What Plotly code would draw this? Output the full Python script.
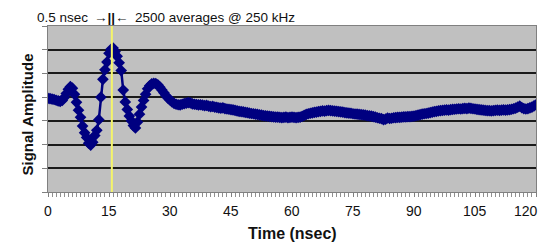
import plotly.graph_objects as go

# Sampling: one point every 0.5 ns from 0 to 120 ns
t_start = 0.0
t_step = 0.5

# Signal amplitude (arbitrary units, gridline spacing = 1)
signal = [
    3.95, 3.94, 3.92, 3.90, 3.87, 3.84, 3.82, 3.86, 3.98, 4.15,
    4.33, 4.44, 4.38, 4.12, 3.78, 3.45, 3.15, 2.78, 2.50, 2.30,
    2.06, 1.98, 2.10, 2.38, 2.60, 3.05, 4.00, 4.75, 5.15, 5.48,
    5.85, 6.02, 6.07, 5.92, 5.72, 5.45, 5.12, 4.30, 3.80, 3.48,
    3.20, 3.00, 2.80, 2.70, 2.95, 3.28, 3.58, 3.86, 4.12, 4.35,
    4.48, 4.56, 4.58, 4.57, 4.52, 4.42, 4.30, 4.18, 4.06, 3.96,
    3.88, 3.80, 3.74, 3.70, 3.68, 3.67, 3.70, 3.73, 3.75, 3.77,
    3.76, 3.72, 3.70, 3.69, 3.67, 3.68, 3.66, 3.64, 3.65, 3.62,
    3.60, 3.61, 3.58, 3.57, 3.55, 3.54, 3.55, 3.52, 3.50, 3.49,
    3.47, 3.46, 3.44, 3.42, 3.40, 3.39, 3.38, 3.36, 3.35, 3.33,
    3.31, 3.30, 3.28, 3.27, 3.25, 3.24, 3.22, 3.21, 3.20, 3.19,
    3.18, 3.17, 3.16, 3.16, 3.15, 3.14, 3.15, 3.16, 3.14, 3.15,
    3.16, 3.15, 3.14, 3.15, 3.16, 3.19, 3.23, 3.27, 3.30, 3.32,
    3.34, 3.36, 3.37, 3.39, 3.40, 3.42, 3.41, 3.43, 3.44, 3.43,
    3.42, 3.41, 3.40, 3.39, 3.38, 3.37, 3.35, 3.34, 3.33, 3.32,
    3.30, 3.29, 3.28, 3.27, 3.26, 3.25, 3.24, 3.22, 3.21, 3.20,
    3.18, 3.16, 3.13, 3.11, 3.09, 3.05, 3.07, 3.12, 3.10, 3.11,
    3.13, 3.14, 3.15, 3.15, 3.16, 3.17, 3.17, 3.18, 3.18, 3.19,
    3.20, 3.22, 3.24, 3.26, 3.28, 3.30, 3.31, 3.33, 3.35, 3.37,
    3.39, 3.40, 3.42, 3.43, 3.44, 3.45, 3.46, 3.45, 3.47, 3.48,
    3.49, 3.50, 3.51, 3.50, 3.52, 3.53, 3.52, 3.54, 3.53, 3.51,
    3.50, 3.48, 3.47, 3.46, 3.45, 3.44, 3.43, 3.43, 3.42, 3.43,
    3.44, 3.45, 3.44, 3.45, 3.46, 3.45, 3.46, 3.47, 3.49, 3.51,
    3.54, 3.58, 3.62, 3.56, 3.52, 3.50, 3.52, 3.55, 3.58, 3.63,
    3.68,
]

x_ticks = [0, 15, 30, 45, 60, 75, 90, 105, 120]
x_tick_labels = ["0", "15", "30", "45", "60", "75", "90", "105", "120"]
y_ticks = [0, 1, 2, 3, 4, 5, 6, 7]

pulse_time = 15.7  # yellow marker line (ns)
header_left = "0.5 nsec"
header_mid = "<b>\u2192||\u2190</b>"
header_right = "2500 averages @ 250 kHz"
x_title = "<b>Time (nsec)</b>"
y_title = "<b>Signal Amplitude</b>"

FONT = "Liberation Sans, Arial, sans-serif"
NAVY = "#000080"
TXT = "#111111"

fig = go.Figure()
fig.add_trace(go.Scatter(
    x0=t_start, dx=t_step, y=signal,
    mode="lines+markers",
    line=dict(color=NAVY, width=2.5),
    marker=dict(symbol="diamond", size=9, color=NAVY),
    showlegend=False,
))

fig.add_vline(x=pulse_time, line=dict(color="#f4f46a", width=2), layer="above")

hdr_font = dict(family=FONT, size=13.5, color=TXT)
fig.add_annotation(text=header_left, xref="x", yref="paper", x=pulse_time,
                   y=1.0, xanchor="right", yanchor="middle", xshift=-22, yshift=9,
                   showarrow=False, font=hdr_font)
fig.add_annotation(text=header_mid, xref="x", yref="paper", x=pulse_time,
                   y=1.0, xanchor="center", yanchor="middle", yshift=9,
                   showarrow=False, font=hdr_font)
fig.add_annotation(text=header_right, xref="x", yref="paper", x=pulse_time,
                   y=1.0, xanchor="left", yanchor="middle", xshift=21, yshift=9,
                   showarrow=False, font=hdr_font)

# Tick labels drawn as annotations at the tick positions; the last one is
# right-aligned so it stays inside the page, as in the reference.
for xv, lbl in zip(x_ticks, x_tick_labels):
    last = xv == x_ticks[-1]
    fig.add_annotation(text=lbl, xref="x", yref="paper", x=xv, y=0,
                       xanchor="right" if last else "center", yanchor="middle",
                       xshift=4 if last else 0, yshift=-19,
                       showarrow=False, font=dict(family=FONT, size=14, color=TXT))

fig.add_annotation(text=x_title, xref="paper", yref="paper", x=0.5, y=0,
                   xanchor="center", yanchor="middle", yshift=-41,
                   showarrow=False, font=dict(family=FONT, size=16, color=TXT))
fig.add_annotation(text=y_title, xref="paper", yref="paper", x=0, y=0.467,
                   xanchor="center", yanchor="middle", xshift=-21, textangle=-90,
                   showarrow=False, font=dict(family=FONT, size=15, color=TXT))

# The page body adds an 8px margin, so the figure is sized and offset to compensate
fig.update_layout(
    width=539, height=236,
    margin=dict(l=40, r=11, t=18, b=52, autoexpand=False),
    paper_bgcolor="white",
    plot_bgcolor="#c0c0c0",
    font=dict(family=FONT, size=14, color=TXT),
    xaxis=dict(
        range=[0, 120], automargin=False,
        tickvals=x_ticks, showticklabels=False,
        ticks="outside", ticklen=4, tickcolor="#808080",
        minor=dict(dtick=1, ticks="outside", ticklen=4, tickcolor="#909090", showgrid=False),
        showgrid=False, zeroline=False,
        showline=True, linecolor="#808080", linewidth=1, mirror=True,
    ),
    yaxis=dict(
        range=[0, 7], automargin=False,
        tickvals=y_ticks, showticklabels=False,
        ticks="outside", ticklen=5, tickcolor="#808080",
        showgrid=True, gridcolor="#1a1a1a", gridwidth=1.5,
        zeroline=False,
        showline=True, linecolor="#808080", linewidth=1, mirror=True,
    ),
)

fig.write_html("out.html")
